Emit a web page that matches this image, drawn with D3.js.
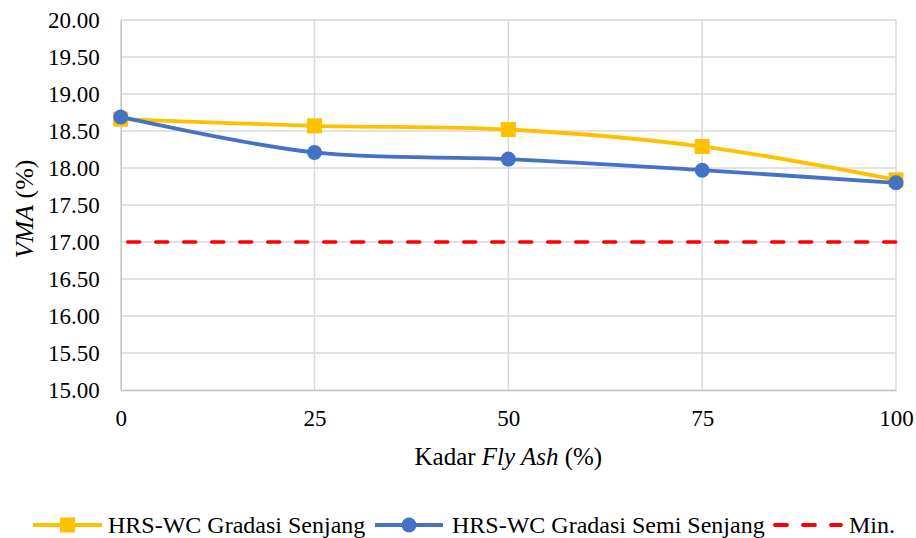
<!DOCTYPE html>
<html>
<head>
<meta charset="utf-8">
<script src="https://cdn.jsdelivr.net/npm/d3@7"></script>
<style>
  text, tspan { font-family: 'Liberation Serif', serif !important; }
</style>
</head>
<body style="margin:0;background:#fff">
<svg id="chart" width="916" height="538" font-family="Liberation Serif"></svg>
<script>
// Fly ash content (%) on the x axis
const flyAsh = [0, 25, 50, 75, 100];
// VMA (%) for each gradation
const senjang = [18.66, 18.57, 18.52, 18.29, 17.84];
const semiSenjang = [18.69, 18.21, 18.12, 17.97, 17.80];
// Minimum specification
const minVMA = 17.00;
// Axis ticks
const yTicks = [15, 15.5, 16, 16.5, 17, 17.5, 18, 18.5, 19, 19.5, 20];
const xTicks = [0, 25, 50, 75, 100];
const legendLabels = ["HRS-WC Gradasi Senjang", "HRS-WC Gradasi Semi Senjang", "Min."];

const FONT = "Liberation Serif";
const svg = d3.select("#chart");
const plotL = 120.7, plotR = 896, plotT = 20, plotB = 390;

const x = d3.scaleLinear().domain([0, 100]).range([plotL, plotR]);
const y = d3.scaleLinear().domain([15, 20]).range([plotB, plotT]);

const yellow = "#FFC000", blue = "#4472C4", red = "#FF0000";
const gridColor = "#D9D9D9";

// Horizontal gridlines
svg.append("g")
  .selectAll("line")
  .data(yTicks.slice(1))
  .join("line")
  .attr("x1", plotL).attr("x2", plotR)
  .attr("y1", d => y(d)).attr("y2", d => y(d))
  .attr("stroke", gridColor).attr("stroke-width", 1.5);

// Vertical gridlines
svg.append("g")
  .selectAll("line")
  .data(xTicks.slice(1))
  .join("line")
  .attr("x1", d => x(d)).attr("x2", d => x(d))
  .attr("y1", plotT).attr("y2", plotB)
  .attr("stroke", gridColor).attr("stroke-width", 1.5);

// Y axis
const yAxis = svg.append("g")
  .attr("transform", `translate(${plotL},0)`)
  .call(d3.axisLeft(y).tickValues(yTicks).tickFormat(d3.format(".2f")).tickSize(0).tickPadding(21));
yAxis.attr("font-family", FONT);
yAxis.select(".domain").attr("stroke", "#BFBFBF").attr("stroke-width", 1.5);
yAxis.selectAll("text")
  .attr("font-family", FONT).attr("font-size", 23).attr("fill", "#000");

// X axis
const xAxis = svg.append("g")
  .attr("transform", `translate(0,${plotB})`)
  .call(d3.axisBottom(x).tickValues(xTicks).tickFormat(d3.format("d")).tickSize(0).tickPadding(20));
xAxis.attr("font-family", FONT);
xAxis.select(".domain").attr("stroke", "#BFBFBF").attr("stroke-width", 1.5);
xAxis.selectAll("text")
  .attr("font-family", FONT).attr("font-size", 23).attr("fill", "#000");

// Minimum line
svg.append("line")
  .attr("x1", x(0) + 7).attr("x2", plotR)
  .attr("y1", y(minVMA)).attr("y2", y(minVMA))
  .attr("stroke", red).attr("stroke-width", 3.5)
  .attr("stroke-dasharray", "12,16").attr("stroke-linecap", "round");

const line = d3.line().curve(d3.curveCatmullRom.alpha(0.5));

function drawSeries(values, color, marker) {
  const pts = flyAsh.map((f, i) => [x(f), y(values[i])]);
  svg.append("path")
    .attr("d", line(pts))
    .attr("fill", "none").attr("stroke", color).attr("stroke-width", 3.8)
    .attr("stroke-linejoin", "round").attr("stroke-linecap", "round");
  const g = svg.append("g");
  if (marker === "square") {
    g.selectAll("rect").data(pts).join("rect")
      .attr("x", d => d[0] - 7.5).attr("y", d => d[1] - 7.5)
      .attr("width", 15).attr("height", 15).attr("fill", color);
  } else {
    g.selectAll("circle").data(pts).join("circle")
      .attr("cx", d => d[0]).attr("cy", d => d[1]).attr("r", 7.5).attr("fill", color);
  }
}
drawSeries(senjang, yellow, "square");
drawSeries(semiSenjang, blue, "circle");

// Axis titles
const xTitle = svg.append("text")
  .attr("x", (plotL + plotR) / 2).attr("y", 465)
  .attr("text-anchor", "middle").attr("fill", "#000")
  .attr("font-family", FONT).attr("font-size", 25);
xTitle.append("tspan").text("Kadar ");
xTitle.append("tspan").attr("font-style", "italic").text("Fly Ash");
xTitle.append("tspan").text(" (%)");

const yTitle = svg.append("text")
  .attr("transform", "translate(33,209) rotate(-90)")
  .attr("text-anchor", "middle").attr("fill", "#000")
  .attr("font-family", FONT).attr("font-size", 26);
yTitle.append("tspan").attr("font-style", "italic").text("VMA");
yTitle.append("tspan").text(" (%)");

// Legend
const ly = 525;
const legend = svg.append("g");
const items = [
  { x0: 33, x1: 102, tx: 108, color: yellow, type: "square" },
  { x0: 375, x1: 443, tx: 452, color: blue, type: "circle" },
  { x0: 773, x1: 843, tx: 849, color: red, type: "dash" }
];
items.forEach((it, i) => {
  const l = legend.append("line")
    .attr("x1", it.x0).attr("x2", it.x1).attr("y1", ly).attr("y2", ly)
    .attr("stroke", it.color).attr("stroke-width", 3.8);
  const cx = (it.x0 + it.x1) / 2;
  if (it.type === "square") {
    legend.append("rect").attr("x", cx - 7.5).attr("y", ly - 7.5)
      .attr("width", 15).attr("height", 15).attr("fill", it.color);
  } else if (it.type === "circle") {
    legend.append("circle").attr("cx", cx).attr("cy", ly).attr("r", 7.5).attr("fill", it.color);
  } else {
    l.attr("stroke-dasharray", "12,16").attr("stroke-linecap", "round")
      .attr("x1", it.x0 + 2).attr("x2", it.x1 - 2);
  }
  legend.append("text")
    .attr("x", it.tx).attr("y", ly + 8).attr("fill", "#000")
    .attr("font-family", FONT).attr("font-size", 24)
    .text(legendLabels[i]);
});
</script>
</body>
</html>
